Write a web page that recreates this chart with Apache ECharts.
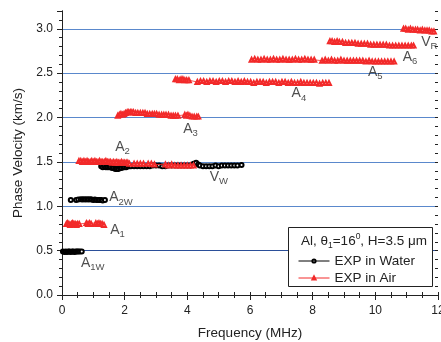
<!DOCTYPE html>
<html>
<head>
<meta charset="utf-8">
<script src="https://cdn.jsdelivr.net/npm/echarts@6/dist/echarts.min.js"></script>
<style>
html,body{margin:0;padding:0;background:#fff}
#chart{width:441px;height:342px}
</style>
</head>
<body>
<div id="chart"></div>
<script>
// 水中测量 (black circles)
const a1wWater = [[0.03,0.49],[0.08,0.485],[0.12,0.49],[0.16,0.485],[0.2,0.49],[0.24,0.49],[0.28,0.485],[0.32,0.49],[0.36,0.49],[0.4,0.485],[0.44,0.49],[0.48,0.49],[0.52,0.49],[0.57,0.49],[0.63,0.49]];
const a2wWater = [[0.28,1.07],[0.45,1.07],[0.52,1.075],[0.6,1.08],[0.65,1.075],[0.7,1.08],[0.75,1.075],[0.8,1.08],[0.85,1.075],[0.9,1.08],[0.95,1.075],[1.0,1.07],[1.05,1.075],[1.1,1.07],[1.15,1.07],[1.2,1.07],[1.25,1.07],[1.3,1.065],[1.37,1.07]];
const vwWater = [[1.25,1.45],[1.3,1.44],[1.35,1.45],[1.4,1.44],[1.45,1.44],[1.5,1.44],[1.55,1.44],[1.6,1.43],[1.65,1.43],[1.7,1.42],[1.75,1.42],[1.8,1.42],[1.85,1.43],[1.9,1.43],[1.95,1.44],[2.0,1.44],[2.05,1.44],[2.1,1.45],[2.15,1.45],[2.2,1.45],[2.3,1.45],[2.4,1.45],[2.5,1.45],[2.6,1.45],[2.7,1.45],[2.8,1.45],[2.9,1.46],[3.0,1.46],[3.1,1.46],[3.2,1.45],[3.3,1.45],[3.4,1.46],[3.5,1.46],[3.6,1.46],[3.7,1.46],[3.8,1.46],[3.9,1.46],[4.0,1.46],[4.1,1.46],[4.2,1.48],[4.28,1.49],[4.35,1.47],[4.4,1.46],[4.5,1.45],[4.6,1.45],[4.7,1.45],[4.8,1.45],[4.9,1.46],[5.0,1.45],[5.1,1.46],[5.2,1.46],[5.3,1.46],[5.4,1.46],[5.5,1.46],[5.6,1.46],[5.73,1.465]];

// 空气中测量 (red triangles)
const a1Air = [[0.14,0.80],[0.18,0.81],[0.22,0.80],[0.26,0.79],[0.3,0.80],[0.34,0.81],[0.38,0.80],[0.42,0.80],[0.46,0.79],[0.5,0.80],[0.55,0.80],[0.78,0.81],[0.83,0.80],[0.88,0.81],[0.93,0.80],[1.08,0.81],[1.13,0.80],[1.18,0.81],[1.23,0.80],[1.28,0.80],[1.34,0.79]];
const a2Air = [[0.54,1.51],[0.6,1.51],[0.65,1.50],[0.7,1.51],[0.75,1.50],[0.8,1.51],[0.85,1.50],[0.9,1.50],[0.95,1.51],[1.0,1.50],[1.05,1.51],[1.1,1.50],[1.15,1.50],[1.2,1.51],[1.25,1.50],[1.3,1.50],[1.35,1.50],[1.4,1.51],[1.45,1.50],[1.5,1.50],[1.55,1.50],[1.6,1.49],[1.65,1.50],[1.7,1.49],[1.75,1.50],[1.8,1.49],[1.85,1.49],[1.9,1.50],[1.95,1.49],[2.0,1.49],[2.05,1.49],[2.1,1.49],[2.15,1.48],[2.3,1.48],[2.4,1.48],[2.5,1.48],[2.6,1.48],[2.75,1.48],[2.85,1.48],[2.95,1.47],[3.3,1.47],[3.4,1.46],[3.5,1.47],[3.6,1.46],[3.7,1.46],[3.8,1.46],[3.9,1.46],[4.0,1.46],[4.1,1.46],[4.2,1.46]];
const a3Air = [[1.78,2.02],[1.83,2.03],[1.88,2.04],[1.93,2.03],[1.98,2.04],[2.03,2.05],[2.08,2.06],[2.13,2.06],[2.18,2.06],[2.23,2.06],[2.28,2.06],[2.35,2.05],[2.42,2.05],[2.5,2.05],[2.58,2.05],[2.65,2.05],[2.72,2.04],[2.8,2.04],[2.88,2.04],[2.95,2.04],[3.02,2.04],[3.1,2.03],[3.18,2.03],[3.25,2.03],[3.32,2.03],[3.4,2.03],[3.48,2.02],[3.55,2.02],[3.62,2.02],[3.7,2.02],[3.92,2.03],[3.97,2.02],[4.02,2.03],[4.08,2.02],[4.15,2.01],[4.22,2.01],[4.3,2.01],[4.35,2.01]];
const a4Air = [[3.62,2.43],[3.68,2.43],[3.74,2.42],[3.8,2.43],[3.86,2.43],[3.92,2.42],[3.98,2.42],[4.05,2.42],[4.32,2.40],[4.42,2.41],[4.52,2.41],[4.62,2.40],[4.72,2.41],[4.82,2.41],[4.92,2.40],[5.02,2.41],[5.12,2.41],[5.22,2.40],[5.32,2.41],[5.42,2.41],[5.52,2.40],[5.62,2.41],[5.72,2.40],[5.82,2.41],[5.92,2.40],[6.02,2.40],[6.12,2.39],[6.22,2.40],[6.32,2.40],[6.42,2.40],[6.52,2.39],[6.62,2.40],[6.72,2.40],[6.82,2.40],[6.92,2.39],[7.02,2.40],[7.12,2.40],[7.22,2.39],[7.32,2.40],[7.42,2.39],[7.52,2.39],[7.62,2.40],[7.72,2.39],[7.82,2.39],[7.92,2.39],[8.02,2.39],[8.12,2.39],[8.22,2.38],[8.32,2.39],[8.42,2.39],[8.52,2.39]];
const a5Air = [[6.05,2.65],[6.15,2.66],[6.25,2.65],[6.35,2.65],[6.45,2.66],[6.55,2.65],[6.65,2.65],[6.75,2.66],[6.85,2.65],[6.95,2.65],[7.05,2.66],[7.15,2.65],[7.25,2.65],[7.35,2.65],[7.45,2.66],[7.55,2.65],[7.65,2.65],[7.75,2.66],[7.85,2.65],[7.95,2.65],[8.05,2.65],[8.3,2.64],[8.4,2.65],[8.5,2.64],[8.6,2.65],[8.7,2.64],[8.8,2.64],[8.9,2.65],[9.0,2.64],[9.1,2.64],[9.2,2.64],[9.3,2.64],[9.4,2.64],[9.5,2.64],[9.6,2.64],[9.7,2.63],[9.8,2.64],[9.9,2.63],[10.0,2.63],[10.1,2.63],[10.2,2.63],[10.3,2.63],[10.4,2.63],[10.5,2.63],[10.6,2.63]];
const a6Air = [[8.55,2.86],[8.62,2.86],[8.7,2.85],[8.78,2.86],[8.85,2.85],[8.95,2.85],[9.05,2.84],[9.15,2.84],[9.25,2.84],[9.35,2.84],[9.45,2.83],[9.55,2.83],[9.65,2.83],[9.75,2.83],[9.85,2.82],[9.95,2.82],[10.05,2.82],[10.15,2.82],[10.25,2.82],[10.35,2.82],[10.45,2.81],[10.55,2.81],[10.65,2.81],[10.75,2.81],[10.85,2.81],[10.95,2.81],[11.05,2.81],[11.15,2.81],[11.22,2.81]];
const vrAir = [[10.9,3.00],[10.97,3.00],[11.05,2.99],[11.12,3.00],[11.2,2.99],[11.28,2.99],[11.35,2.99],[11.43,2.98],[11.5,2.99],[11.58,2.98],[11.65,2.98],[11.72,2.98],[11.8,2.97],[11.87,2.97]];

// 模态标注
const modeLabels = [
    {value:[0.59,0.36], main:'A', sub:'1W'},
    {value:[1.52,0.73], main:'A', sub:'1'},
    {value:[1.49,1.10], main:'A', sub:'2W'},
    {value:[1.68,1.67], main:'A', sub:'2'},
    {value:[4.70,1.33], main:'V', sub:'W'},
    {value:[3.85,1.87], main:'A', sub:'3'},
    {value:[7.31,2.27], main:'A', sub:'4'},
    {value:[9.75,2.515], main:'A', sub:'5'},
    {value:[10.86,2.68], main:'A', sub:'6'},
    {value:[11.45,2.85], main:'V', sub:'R'}
];

const FONT = "'Liberation Sans', Arial, sans-serif";
const waterModes = [a1wWater, a2wWater, vwWater];
const airModes = [a1Air, a2Air, a3Air, a4Air, a5Air, a6Air, vrAir];

const myChart = echarts.init(document.getElementById('chart'));

const plain = {axisLine:{show:false}, axisLabel:{show:false}, splitLine:{show:false}};
const series = [];
waterModes.forEach(d=>{
    series.push({
        name:'EXP in Water', type:'line', data:d,
        symbol:'emptyCircle', symbolSize:4, showAllSymbol:true,
        itemStyle:{color:'#000', borderWidth:0.9},
        lineStyle:{color:'#000', width:0.8}, z:2
    });
});
airModes.forEach(d=>{
    series.push({
        name:'EXP in Air', type:'line', data:d,
        symbol:'emptyTriangle', symbolSize:4, showAllSymbol:true,
        itemStyle:{color:'#f22a2a', borderWidth:0.9},
        lineStyle:{color:'#f22a2a', width:0.8}, z:3
    });
});
series.push({
    type:'scatter', data:modeLabels, symbolSize:1, silent:true,
    itemStyle:{color:'rgba(0,0,0,0)'},
    label:{
        show:true, position:'right', distance:0,
        formatter:p=>`{m|${p.data.main}}{s|${p.data.sub}}`,
        rich:{
            m:{fontFamily:FONT, fontSize:14, lineHeight:19, color:'#222'},
            s:{fontFamily:FONT, fontSize:9.5, lineHeight:9, verticalAlign:'bottom', color:'#222'}
        }
    }, z:4
});

myChart.setOption({
    animation:false,
    grid:{left:62, right:3, top:11, bottom:47, outerBoundsMode:'none'},
    legend:{
        data:['EXP in Water','EXP in Air'],
        left:298, top:254, orient:'vertical', padding:0,
        itemWidth:31, itemHeight:4, itemGap:3, selectedMode:false,
        lineStyle:{width:1}, itemStyle:{borderWidth:0.9},
        textStyle:{fontFamily:FONT, fontSize:13.5, color:'#222'}, z:6
    },
    xAxis:[
        {type:'value', min:0, max:12, interval:2, position:'bottom',
         name:'Frequency (MHz)', nameLocation:'middle', nameGap:31,
         nameTextStyle:{fontFamily:FONT, fontSize:13.5, color:'#222'},
         axisLine:{lineStyle:{color:'#222'}},
         axisTick:{length:5, lineStyle:{color:'#222'}},
         axisLabel:{margin:10, fontFamily:FONT, fontSize:12, color:'#222'},
         splitLine:{show:false}},
        Object.assign({type:'value', min:0, max:12, interval:0.5, position:'bottom',
         axisTick:{inside:true, length:3, lineStyle:{color:'#222'}}}, plain),
        {type:'value', min:0, max:12, interval:2, position:'top',
         axisLine:{lineStyle:{color:'#222'}},
         axisTick:{inside:true, length:5, lineStyle:{color:'#222'}},
         minorTick:{show:true, splitNumber:4, length:3, lineStyle:{color:'#222'}},
         axisLabel:{show:false}, splitLine:{show:false}}
    ],
    yAxis:[
        {type:'value', min:0, max:3.2, interval:0.5, position:'left',
         name:'Phase Velocity (km/s)', nameLocation:'middle', nameGap:30,
         nameTextStyle:{fontFamily:FONT, fontSize:13.5, color:'#222'},
         axisLine:{lineStyle:{color:'#222'}},
         axisTick:{length:5, lineStyle:{color:'#222'}},
         axisLabel:{margin:9, fontFamily:FONT, fontSize:12, color:'#222', showMaxLabel:false,
             formatter:v=>v.toFixed(1)},
         splitLine:{show:true, showMinLine:false, showMaxLine:false,
             lineStyle:{width:1.2, color:['#2b4f99','#5a88cc','#5a88cc','#5a88cc','#5a88cc','#5a88cc']}}},
        Object.assign({type:'value', min:0, max:3.2, interval:0.1, position:'left',
         axisTick:{length:3, lineStyle:{color:'#222'}}}, plain),
        {type:'value', min:0, max:3.2, interval:0.5, position:'right',
         axisLine:{lineStyle:{color:'#222'}},
         axisTick:{inside:true, length:5, lineStyle:{color:'#222'}},
         axisLabel:{show:false}, splitLine:{show:false}},
        Object.assign({type:'value', min:0, max:3.2, interval:0.1, position:'right',
         axisTick:{inside:true, length:3, lineStyle:{color:'#222'}}}, plain)
    ],
    graphic:[
        {type:'rect', shape:{x:288.5, y:227.5, width:144, height:59},
         style:{fill:'#fff', stroke:'#222', lineWidth:1}, z:5},
        {type:'text', left:301, top:232, z:6,
         style:{
             text:'{n|Al, θ}{b|1}{n|=16}{p|0}{n|, H=3.5 μm}',
             rich:{
                 n:{fontFamily:FONT, fontSize:13.5, lineHeight:18, fill:'#222'},
                 b:{fontFamily:FONT, fontSize:8.5, lineHeight:9, verticalAlign:'bottom', fill:'#222'},
                 p:{fontFamily:FONT, fontSize:8.5, lineHeight:9, verticalAlign:'top', fill:'#222'}
             }
         }}
    ],
    series:series
});
</script>
</body>
</html>
